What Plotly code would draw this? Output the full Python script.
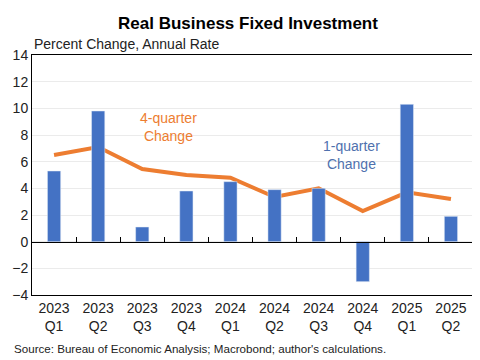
import plotly.graph_objects as go

categories = ["2023<br>Q1", "2023<br>Q2", "2023<br>Q3", "2023<br>Q4", "2024<br>Q1",
              "2024<br>Q2", "2024<br>Q3", "2024<br>Q4", "2025<br>Q1", "2025<br>Q2"]
one_quarter = [5.3, 9.8, 1.1, 3.8, 4.5, 3.9, 4.0, -3.0, 10.3, 1.9]
four_quarter = [6.5, 7.1, 5.45, 5.0, 4.8, 3.35, 4.0, 2.3, 3.7, 3.2]

FONT = "Liberation Sans, Arial, sans-serif"
BLUE = "#4472C4"
ORANGE = "#ED7D31"

fig = go.Figure()
fig.add_trace(go.Bar(x=categories, y=one_quarter, marker_color=BLUE, width=0.3,
                     xaxis="x2", yaxis="y", showlegend=False))
fig.add_trace(go.Scatter(x=categories, y=four_quarter, mode="lines",
                         line=dict(color=ORANGE, width=4), xaxis="x", yaxis="y",
                         showlegend=False))

fig.update_layout(
    width=480, height=360,
    margin=dict(l=24, r=15, t=47, b=73, autoexpand=False),
    paper_bgcolor="white", plot_bgcolor="white",
    font=dict(family=FONT, size=14, color="#222"),
    title=dict(text="<b>Real Business Fixed Investment</b>", x=0.5, xanchor="center",
               xref="container", y=1 - 15 / 360, yanchor="middle",
               font=dict(size=17, color="black")),
    xaxis=dict(type="category", range=[-0.5, 9.5], showline=True, mirror=True,
               linecolor="black", linewidth=1, showgrid=False, ticks="",
               automargin=False, tickfont=dict(size=14, color="#222")),
    xaxis2=dict(type="category", range=[-0.5, 9.5], overlaying="x", anchor="free",
                position=4 / 18, side="bottom", showline=True, linecolor="black",
                linewidth=1, ticks="inside", tickson="boundaries", ticklen=5,
                tickcolor="black", tickwidth=1, showticklabels=False, showgrid=False,
                automargin=False),
    yaxis=dict(range=[-4, 14], dtick=2, showline=True, mirror=True, linecolor="black",
               linewidth=1, showgrid=True, gridcolor="#EBEBEB", zeroline=False,
               ticks="", automargin=False, tickfont=dict(size=14, color="#222")),
    bargap=0.7,
)

fig.add_annotation(text="Percent Change, Annual Rate", xref="paper", yref="paper",
                   x=0, y=1, xanchor="left", yanchor="bottom", yshift=1, showarrow=False,
                   font=dict(size=14, color="#222"))
fig.add_annotation(text="4-quarter<br>Change", xref="x", yref="y", x=2.6, y=8.6,
                   showarrow=False, font=dict(size=14, color=ORANGE))
fig.add_annotation(text="1-quarter<br>Change", xref="x", yref="y", x=6.75, y=6.5,
                   showarrow=False, font=dict(size=14, color="#4F71AE"))
fig.add_annotation(text="Source: Bureau of Economic Analysis; Macrobond; author's calculations.",
                   xref="paper", yref="paper", x=-0.045, y=0, xanchor="left", yanchor="middle",
                   yshift=-53, showarrow=False, font=dict(size=11.6, color="#222"))

fig.write_html("out.html")
